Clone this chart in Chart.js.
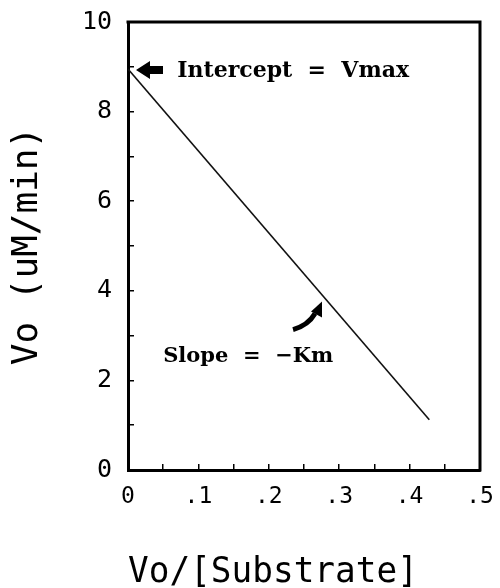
<!DOCTYPE html>
<html>
<head>
<meta charset="utf-8">
<script src="https://cdn.jsdelivr.net/npm/chart.js@4/dist/chart.umd.min.js"></script>
<style>
html, body { margin: 0; padding: 0; background: #fff; }
#wrap { width: 500px; height: 588px; position: relative; }
</style>
</head>
<body>
<div id="wrap"><canvas id="c" width="500" height="588"></canvas></div>
<script>
// Eadie-Hofstee plot: Vo against Vo/[S]
const xValues = [0, 0.428];          // Vo/[Substrate]
const yValues = [8.95, 1.12];        // Vo (uM/min)

const xTickValues = [0, 0.1, 0.2, 0.3, 0.4, 0.5];
const xTickLabels = ['0', '.1', '.2', '.3', '.4', '.5'];
const yTickValues = [0, 2, 4, 6, 8, 10];
const yTickLabels = ['0', '2', '4', '6', '8', '10'];

// the x title sits a little left of the box centre, hence the trailing blanks
const xTitle = 'Vo/[Substrate]   ';
const yTitle = 'Vo (uM/min)';

const interceptNote = 'Intercept  =  Vmax';
const slopeNote = 'Slope  =  \u2212Km';

const MONO = '"DejaVu Sans Mono", "Liberation Mono", monospace';
const SERIF = '"DejaVu Serif", "Liberation Serif", serif';

function labelFor(values, labels) {
  return function (v) {
    for (let i = 0; i < values.length; i++) {
      if (Math.abs(v - values[i]) < 1e-6) return labels[i];
    }
    return '';
  };
}

// closes the plot box on the top and right
const frame = {
  id: 'frame',
  beforeDatasetsDraw(chart) {
    const { ctx, chartArea: a } = chart;
    ctx.save();
    ctx.strokeStyle = '#000';
    ctx.lineWidth = 3;
    ctx.lineCap = 'square';
    ctx.beginPath();
    ctx.moveTo(a.left, a.top);
    ctx.lineTo(a.right, a.top);
    ctx.lineTo(a.right, a.bottom);
    ctx.stroke();
    ctx.restore();
  }
};

// text notes and arrows on the plot
const notes = {
  id: 'notes',
  afterDatasetsDraw(chart) {
    const { ctx } = chart;
    const xs = chart.scales.x, ys = chart.scales.y;
    const px = v => xs.getPixelForValue(v);
    const py = v => ys.getPixelForValue(v);
    ctx.save();
    ctx.fillStyle = '#000';
    ctx.strokeStyle = '#000';

    // straight arrow pointing at the intercept
    const ix = px(xValues[0]) + 8, iy = py(yValues[0]) + 1;
    ctx.beginPath();
    ctx.moveTo(ix, iy);
    ctx.lineTo(ix + 14, iy - 9);
    ctx.lineTo(ix + 14, iy - 4);
    ctx.lineTo(ix + 27, iy - 4);
    ctx.lineTo(ix + 27, iy + 4);
    ctx.lineTo(ix + 14, iy + 4);
    ctx.lineTo(ix + 14, iy + 9);
    ctx.closePath();
    ctx.fill();

    ctx.font = 'bold 22px ' + SERIF;
    ctx.textBaseline = 'middle';
    ctx.textAlign = 'left';
    ctx.fillText(interceptNote, px(0.07), py(8.9));

    // curved arrow pointing at the line
    const tx = px(0.2756), ty = py(3.76);
    ctx.lineWidth = 5;
    ctx.lineCap = 'butt';
    ctx.beginPath();
    ctx.moveTo(tx - 29, ty + 28);
    ctx.quadraticCurveTo(tx - 14, ty + 24, tx - 7, ty + 12);
    ctx.stroke();
    ctx.beginPath();
    ctx.moveTo(tx, ty);
    ctx.lineTo(tx - 11, ty + 10);
    ctx.lineTo(tx, ty + 16);
    ctx.closePath();
    ctx.fill();

    ctx.font = 'bold 21px ' + SERIF;
    ctx.fillText(slopeNote, px(0.05), py(2.53));
    ctx.restore();
  }
};

new Chart(document.getElementById('c'), {
  type: 'scatter',
  data: {
    datasets: [{
      data: xValues.map((x, i) => ({ x: x, y: yValues[i] })),
      showLine: true,
      borderColor: '#111',
      borderWidth: 1.6,
      pointRadius: 0,
      fill: false
    }]
  },
  options: {
    responsive: false,
    animation: false,
    events: [],
    layout: { padding: { top: 22, right: 20, left: 0, bottom: 0 } },
    plugins: { legend: { display: false }, tooltip: { enabled: false } },
    scales: {
      x: {
        type: 'linear',
        min: 0, max: 0.5,
        afterFit(s) { s.height = 118; s.paddingLeft = 0; s.paddingRight = 0; },
        border: { display: true, color: '#000', width: 3 },
        grid: { drawOnChartArea: false, tickLength: -6, color: '#000', lineWidth: 1.5 },
        ticks: {
          stepSize: 0.05, autoSkip: false, maxRotation: 0,
          padding: 19, color: '#000',
          font: { family: MONO, size: 23 },
          callback: labelFor(xTickValues, xTickLabels)
        },
        title: {
          display: true, text: xTitle, color: '#000',
          font: { family: MONO, size: 36, lineHeight: 1 },
          padding: { top: 0, bottom: -3 }
        }
      },
      y: {
        type: 'linear',
        min: 0, max: 10,
        afterFit(s) { s.width = 128; s.paddingTop = 0; s.paddingBottom = 0; },
        border: { display: true, color: '#000', width: 3 },
        grid: { drawOnChartArea: false, tickLength: -6, color: '#000', lineWidth: 1.5 },
        ticks: {
          stepSize: 1, autoSkip: false,
          padding: 22, color: '#000',
          font: { family: MONO, size: 25 },
          callback: labelFor(yTickValues, yTickLabels)
        },
        title: {
          display: true, text: yTitle, color: '#000',
          font: { family: MONO, size: 36, lineHeight: 1 },
          padding: { top: 10, bottom: 0 }
        }
      }
    }
  },
  plugins: [frame, notes]
});
</script>
</body>
</html>
